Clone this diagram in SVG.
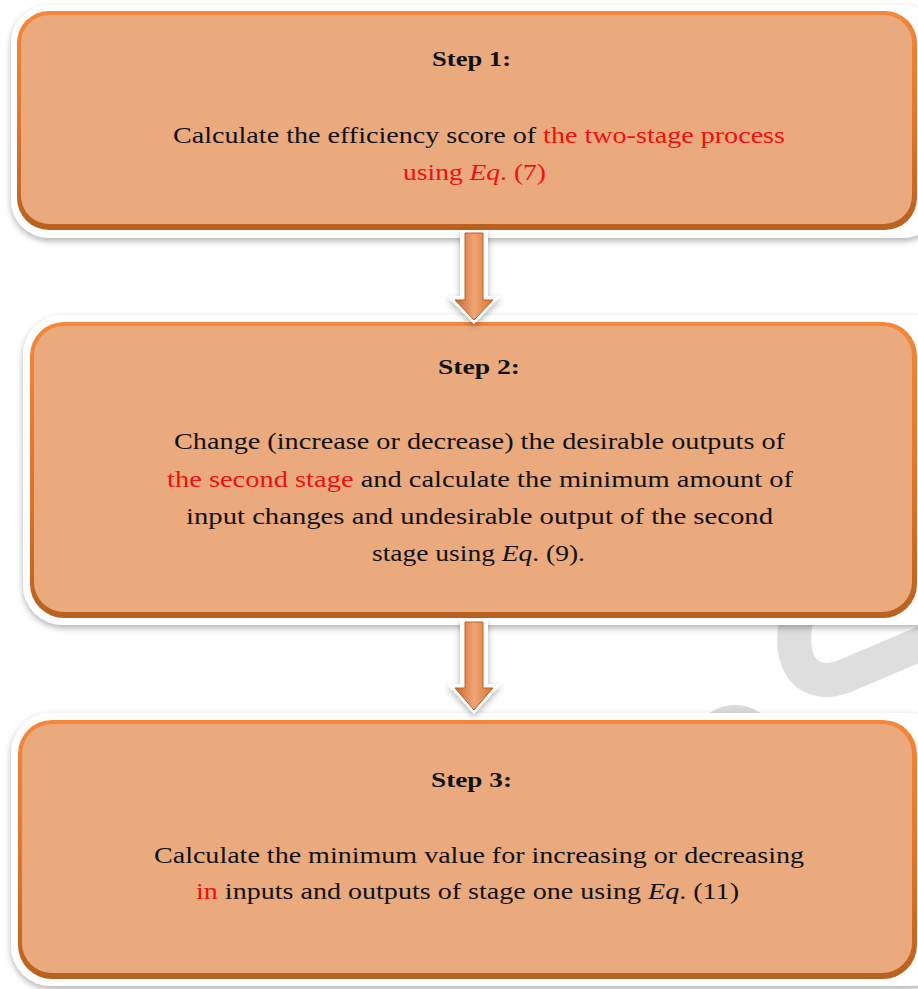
<svg xmlns="http://www.w3.org/2000/svg" width="918" height="989" viewBox="0 0 918 989">
<defs>
<filter id="sh" x="-5%" y="-10%" width="110%" height="125%">
<feDropShadow dx="0" dy="3" stdDeviation="3" flood-color="#000" flood-opacity="0.3"/>
</filter>
<linearGradient id="rim" x1="0" y1="0" x2="0" y2="1">
<stop offset="0" stop-color="#F5873A"/>
<stop offset="0.5" stop-color="#E27630"/>
<stop offset="1" stop-color="#B8621F"/>
</linearGradient>
<linearGradient id="arr" x1="0" y1="0" x2="1" y2="0">
<stop offset="0" stop-color="#C9642A"/>
<stop offset="0.5" stop-color="#EFA676"/>
<stop offset="1" stop-color="#D77535"/>
</linearGradient>
<style>
.outer{fill:#fff;filter:url(#sh)}
.rim{fill:url(#rim)}
.body{fill:#EAAA7E}
.t{font-size:24px;fill:#111}
.h{font-weight:bold;font-size:22px}
.r{fill:#F01010}
.i{font-style:italic}
.wm{fill:none;stroke:#DEDEDE;stroke-width:34}
.ao{fill:#fff;filter:url(#sh)}
.af{fill:url(#arr);stroke:#C05E20;stroke-width:1}
</style>
</defs>
<rect width="918" height="989" fill="#fff"/>
<g id="watermark">
<path class="wm" d="M796,620 C788,665 808,690 845,676 L930,640"/>
<circle cx="735" cy="750" r="45" fill="#D9D9D9"/>
</g>
<g font-family="'Liberation Serif', 'DejaVu Serif', serif">
<g id="step1">
<rect class="outer" x="11" y="5" width="930" height="233" rx="38"/>
<rect class="rim" x="17" y="11" width="900" height="219" rx="32"/>
<rect class="body" x="21" y="15" width="891" height="209" rx="28"/>
<text class="t h" x="432" y="66" textLength="79" lengthAdjust="spacingAndGlyphs">Step 1:</text>
<text class="t" x="173" y="143" textLength="612" lengthAdjust="spacingAndGlyphs">Calculate the efficiency score of <tspan class="r">the two-stage process</tspan></text>
<text class="t r" x="403" y="180" textLength="143" lengthAdjust="spacingAndGlyphs">using <tspan class="i">Eq</tspan>. (7)</text>
</g>
<g id="step2">
<rect class="outer" x="23" y="315" width="930" height="310" rx="40"/>
<rect class="rim" x="30" y="322" width="887" height="296" rx="34"/>
<rect class="body" x="34" y="326" width="878" height="286" rx="30"/>
<text class="t h" x="438" y="374" textLength="82" lengthAdjust="spacingAndGlyphs">Step 2:</text>
<text class="t" x="174" y="449" textLength="611" lengthAdjust="spacingAndGlyphs">Change (increase or decrease) the desirable outputs of</text>
<text class="t" x="167" y="487" textLength="626" lengthAdjust="spacingAndGlyphs"><tspan class="r">the second stage</tspan> and calculate the minimum amount of</text>
<text class="t" x="186" y="524" textLength="587" lengthAdjust="spacingAndGlyphs">input changes and undesirable output of the second</text>
<text class="t" x="372" y="561" textLength="213" lengthAdjust="spacingAndGlyphs">stage using <tspan class="i">Eq</tspan>. (9).</text>
</g>
<g id="step3">
<rect class="outer" x="11" y="713" width="940" height="273" rx="40"/>
<rect class="rim" x="18" y="720" width="899" height="259" rx="34"/>
<rect class="body" x="22" y="724" width="890" height="249" rx="30"/>
<text class="t h" x="431" y="787" textLength="81" lengthAdjust="spacingAndGlyphs">Step 3:</text>
<text class="t" x="154" y="863" textLength="650" lengthAdjust="spacingAndGlyphs">Calculate the minimum value for increasing or decreasing</text>
<text class="t" x="196" y="899" textLength="543" lengthAdjust="spacingAndGlyphs"><tspan class="r">in</tspan> inputs and outputs of stage one using <tspan class="i">Eq</tspan>. (11)</text>
</g>
</g>
<g id="connectors">
<path class="ao" d="M460,230 L488,230 L488,296 L501,296 L474,324 L447,296 L460,296 Z"/>
<path class="af" d="M465,233 L483,233 L483,300 L493,300 L474,320 L455,300 L465,300 Z"/>
<path class="ao" d="M460,619 L488,619 L488,684 L501,684 L474,714 L447,684 L460,684 Z"/>
<path class="af" d="M465,622 L483,622 L483,688 L493,688 L474,710 L455,688 L465,688 Z"/>
</g>
</svg>
